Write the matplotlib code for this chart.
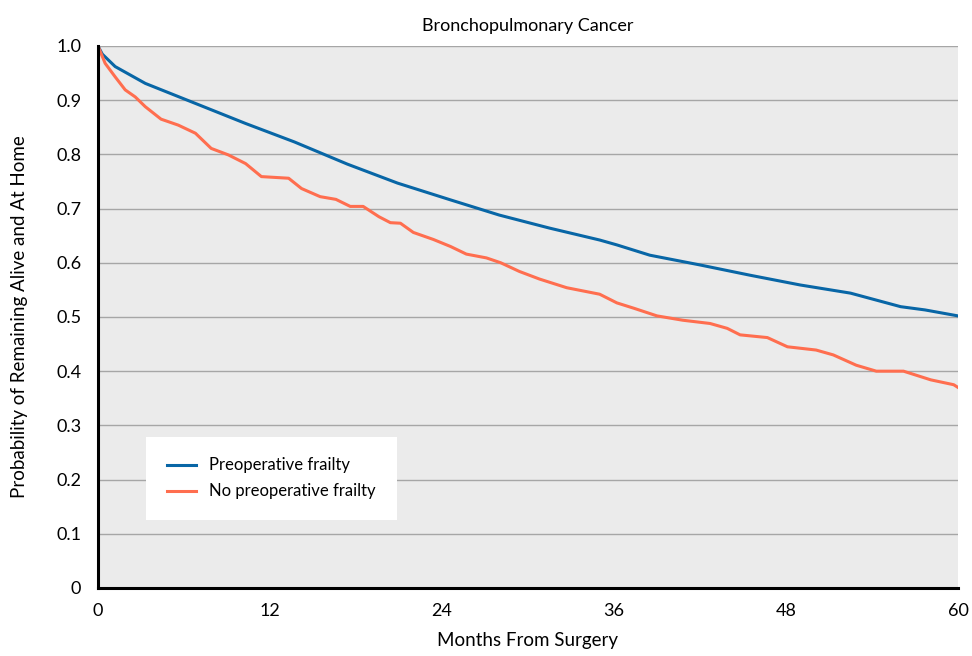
import matplotlib
matplotlib.use("Agg")
import matplotlib.pyplot as plt

# ---- data -----------------------------------------------------------------
frail_months = [0, 0.3, 1.2, 3.3, 6.8, 10.3, 13.7, 17.4, 20.9, 24.6, 28.0, 31.5,
                35.0, 36.2, 38.5, 42.0, 45.5, 49.0, 52.5, 56.0, 57.7, 60]
frail_prob = [1.0, 0.985, 0.962, 0.931, 0.894, 0.857, 0.823, 0.782, 0.747, 0.716,
              0.688, 0.664, 0.642, 0.633, 0.614, 0.596, 0.577, 0.559, 0.544, 0.519,
              0.513, 0.502]

nofrail_months = [0, 0.5, 1.2, 1.9, 2.6, 3.3, 4.4, 5.6, 6.8, 7.9, 9.1, 10.3, 11.4,
                  13.3, 14.2, 15.5, 16.6, 17.6, 18.5, 19.6, 20.4, 21.1, 22.0, 23.4,
                  24.6, 25.7, 27.1, 28.1, 29.4, 30.8, 32.7, 35.0, 36.2, 37.4, 39.0,
                  40.8, 42.7, 43.9, 44.8, 46.7, 48.1, 50.1, 51.3, 52.9, 54.3, 56.2,
                  58.1, 59.7, 60]
nofrail_prob = [1.0, 0.968, 0.943, 0.919, 0.906, 0.888, 0.865, 0.854, 0.839, 0.811,
                0.799, 0.783, 0.759, 0.756, 0.737, 0.722, 0.717, 0.704, 0.704, 0.685,
                0.674, 0.673, 0.656, 0.643, 0.630, 0.616, 0.609, 0.600, 0.584, 0.570,
                0.554, 0.542, 0.526, 0.516, 0.502, 0.494, 0.488, 0.479, 0.467, 0.462,
                0.445, 0.439, 0.430, 0.411, 0.400, 0.400, 0.384, 0.375, 0.370]

xticks = [0, 12, 24, 36, 48, 60]
yticks = [0, 0.1, 0.2, 0.3, 0.4, 0.5, 0.6, 0.7, 0.8, 0.9, 1.0]
ytick_labels = ["0", "0.1", "0.2", "0.3", "0.4", "0.5", "0.6", "0.7", "0.8", "0.9", "1.0"]

BLUE = "#0866a6"
ORANGE = "#ff6e4f"

plt.rcParams["font.family"] = ["Lato", "DejaVu Sans"]

fig = plt.figure(figsize=(9.72, 6.56), dpi=100)
ax = fig.add_axes([0.1008, 0.1037, 0.8848, 0.8262])
ax.set_facecolor("#ebebeb")

ax.plot(frail_months, frail_prob, color=BLUE, linewidth=2.2, label="Preoperative frailty")
ax.plot(nofrail_months, nofrail_prob, color=ORANGE, linewidth=2.2,
        label="No preoperative frailty")

ax.set_xlim(0, 60)
ax.set_ylim(0, 1.0)
ax.set_xticks(xticks)
ax.set_yticks(yticks)
ax.set_yticklabels(ytick_labels)
ax.tick_params(length=0, labelsize=13, colors="black")
ax.tick_params(axis="x", pad=11)
ax.tick_params(axis="y", pad=12)
ax.grid(axis="y", color="#a6a6a6", linewidth=1.0)
ax.set_axisbelow(True)

for s in ["top", "right"]:
    ax.spines[s].set_visible(False)
for s in ["left", "bottom"]:
    ax.spines[s].set_linewidth(2.2)
    ax.spines[s].set_color("black")
    ax.spines[s].set_zorder(5)

ax.set_xlabel("Months From Surgery", fontsize=13.5, labelpad=9)
ax.set_ylabel("Probability of Remaining Alive and At Home", fontsize=13.5, labelpad=20)
ax.set_title("Bronchopulmonary Cancer", fontsize=13, pad=11)

leg = ax.legend(loc="lower left", bbox_to_anchor=(0.056, 0.125), fontsize=12,
                frameon=True, fancybox=False, borderpad=1.25, handlelength=1.75,
                handletextpad=0.8, labelspacing=0.6, borderaxespad=0)
leg.get_frame().set_facecolor("white")
leg.get_frame().set_edgecolor("none")
leg.get_frame().set_alpha(1.0)

fig.savefig("out.png", dpi=100, facecolor="white")
